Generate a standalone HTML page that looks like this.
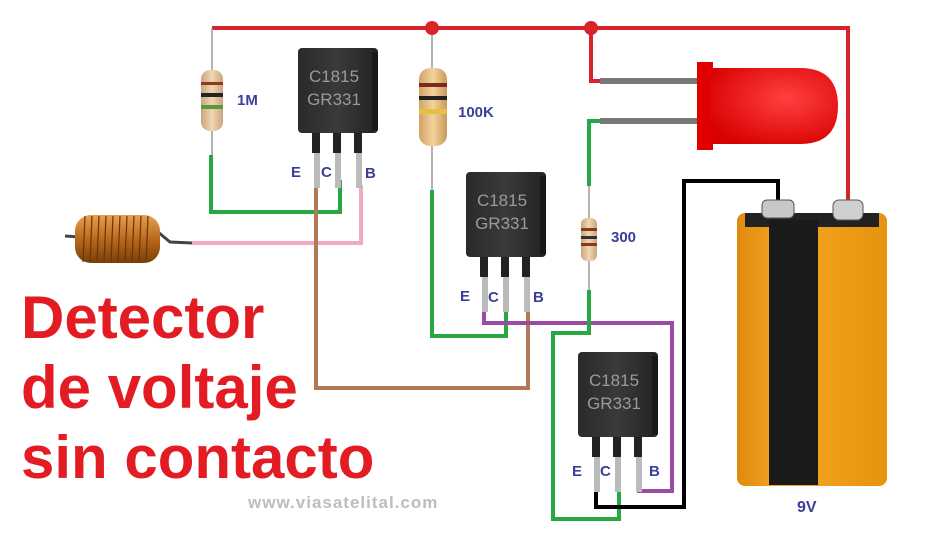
<!DOCTYPE html>
<html><head><meta charset="utf-8"><style>
html,body{margin:0;padding:0;background:#fff}
svg{display:block}
</style></head><body>
<svg width="930" height="540" viewBox="0 0 930 540" xmlns="http://www.w3.org/2000/svg">
<defs>
<linearGradient id="res" x1="0" x2="1"><stop offset="0" stop-color="#c9a680"/><stop offset=".5" stop-color="#f0d6b2"/><stop offset="1" stop-color="#c9a680"/></linearGradient>
<linearGradient id="res2" x1="0" x2="1"><stop offset="0" stop-color="#d1a265"/><stop offset=".5" stop-color="#f3d39b"/><stop offset="1" stop-color="#c99a5a"/></linearGradient>
<linearGradient id="tr" x1="0" x2="1"><stop offset="0" stop-color="#2a2a2a"/><stop offset=".5" stop-color="#3a3a3a"/><stop offset="1" stop-color="#222"/></linearGradient>
<linearGradient id="bat" x1="0" x2="1"><stop offset="0" stop-color="#e08a10"/><stop offset=".3" stop-color="#f5a623"/><stop offset="1" stop-color="#e6940f"/></linearGradient>
<radialGradient id="led" cx=".6" cy=".4" r=".7"><stop offset="0" stop-color="#ff4040"/><stop offset="1" stop-color="#d80000"/></radialGradient>
<linearGradient id="coil" x1="0" y1="0" x2="0" y2="1"><stop offset="0" stop-color="#e8a050"/><stop offset=".5" stop-color="#b86a1c"/><stop offset="1" stop-color="#7a3e0a"/></linearGradient>
<g id="trans">
<rect x="0" y="0" width="80" height="85" rx="4" fill="url(#tr)"/>
<rect x="74" y="4" width="6" height="78" fill="#181818"/>
<text x="36" y="34" font-family="Liberation Sans, sans-serif" font-size="17" fill="#9a9a9a" text-anchor="middle">C1815</text>
<text x="36" y="57" font-family="Liberation Sans, sans-serif" font-size="17" fill="#9a9a9a" text-anchor="middle">GR331</text>
<rect x="16" y="85" width="6" height="55" fill="#bbb"/>
<rect x="37" y="85" width="6" height="55" fill="#bbb"/>
<rect x="58" y="85" width="6" height="55" fill="#bbb"/>
<rect x="14" y="85" width="8" height="20" fill="#222"/>
<rect x="35" y="85" width="8" height="20" fill="#222"/>
<rect x="56" y="85" width="8" height="20" fill="#222"/>
</g>
</defs>

<g fill="none" stroke-width="4">
<polyline points="212,28 848,28 848,200" stroke="#d8232a"/>
<polyline points="591,28 591,81 610,81" stroke="#d8232a"/>
<polyline points="211,155 211,212 340,212 340,180" stroke="#27a844"/>
<polyline points="192,243 361,243 361,185" stroke="#f4a8c4"/>
<polyline points="316,188 316,388 528,388 528,312" stroke="#b07a58"/>
<polyline points="432,190 432,336 506,336 506,311" stroke="#27a844"/>
<polyline points="484,312 484,323 672,323 672,491 637,491" stroke="#9b4aa6"/>
<polyline points="610,121 589,121 589,186" stroke="#27a844"/>
<polyline points="589,290 589,333 553,333 553,519 619,519 619,490" stroke="#27a844"/>
<polyline points="596,488 596,507 684,507 684,181 778,181 778,200" stroke="#000"/>
</g>
<g stroke="#999" stroke-width="1.5">
<line x1="212" y1="28" x2="212" y2="155"/>
<line x1="432" y1="28" x2="432" y2="190"/>
<line x1="589" y1="186" x2="589" y2="290"/>
</g>
<circle cx="432" cy="28" r="7" fill="#d8232a"/>
<circle cx="591" cy="28" r="7" fill="#d8232a"/>

<rect x="201" y="70" width="22" height="61" rx="9" fill="url(#res)"/>
<rect x="201" y="82" width="22" height="3" fill="#8b3a1a"/>
<rect x="201" y="93" width="22" height="4" fill="#222"/>
<rect x="201" y="105" width="22" height="4" fill="#5a9a3a"/>
<rect x="419" y="68" width="28" height="78" rx="11" fill="url(#res2)"/>
<rect x="419" y="83" width="28" height="4" fill="#7a2a1a"/>
<rect x="419" y="96" width="28" height="4" fill="#222"/>
<rect x="419" y="109" width="28" height="5" fill="#e8c040"/>
<rect x="581" y="218" width="16" height="43" rx="6" fill="url(#res)"/>
<rect x="581" y="228" width="16" height="3" fill="#8b3a1a"/>
<rect x="581" y="236" width="16" height="3" fill="#333"/>
<rect x="581" y="243" width="16" height="3" fill="#8b3a1a"/>

<use href="#trans" x="298" y="48"/>
<use href="#trans" x="466" y="172"/>
<use href="#trans" x="578" y="352"/>

<rect x="600" y="78" width="100" height="6" fill="#777"/>
<rect x="600" y="118" width="100" height="6" fill="#777"/>
<rect x="697" y="62" width="16" height="88" fill="#e00000"/>
<path d="M710,68 L800,68 Q838,68 838,106 Q838,144 800,144 L710,144 Z" fill="url(#led)"/>

<rect x="737" y="213" width="150" height="273" rx="8" fill="url(#bat)"/>
<rect x="745" y="213" width="134" height="14" fill="#222"/>
<rect x="769" y="220" width="49" height="265" fill="#1a1a1a"/>
<rect x="762" y="200" width="32" height="18" rx="5" fill="#c8c8c8" stroke="#555"/>
<rect x="833" y="200" width="30" height="20" rx="6" fill="#d0d0d0" stroke="#555"/>

<line x1="65" y1="236" x2="80" y2="237" stroke="#444" stroke-width="3"/>
<path d="M158,232 L170,242 L192,243" fill="none" stroke="#444" stroke-width="3"/>
<rect x="75" y="215" width="85" height="48" rx="16" fill="url(#coil)"/>
<g stroke="#6a3408" stroke-width="1.2">
<line x1="85" y1="216" x2="83" y2="262"/><line x1="92" y1="216" x2="90" y2="262"/><line x1="99" y1="216" x2="97" y2="262"/><line x1="106" y1="216" x2="104" y2="262"/><line x1="113" y1="216" x2="111" y2="262"/><line x1="120" y1="216" x2="118" y2="262"/><line x1="127" y1="216" x2="125" y2="262"/><line x1="134" y1="216" x2="132" y2="262"/><line x1="141" y1="216" x2="139" y2="262"/><line x1="148" y1="216" x2="146" y2="262"/>
</g>

<g font-family="Liberation Sans, sans-serif" font-weight="bold" fill="#3b3f9c" font-size="15">
<text x="237" y="105">1M</text>
<text x="458" y="117">100K</text>
<text x="611" y="242">300</text>
<text x="291" y="177">E</text><text x="321" y="177">C</text><text x="365" y="178">B</text>
<text x="460" y="301">E</text><text x="488" y="302">C</text><text x="533" y="302">B</text>
<text x="572" y="476">E</text><text x="600" y="476">C</text><text x="649" y="476">B</text>
<text x="797" y="512" font-size="16">9V</text>
</g>
<g font-family="Liberation Sans, sans-serif" font-weight="bold" fill="#e31b23" font-size="60">
<text x="21" y="338">Detector</text>
<text x="21" y="408">de voltaje</text>
<text x="21" y="478">sin contacto</text>
</g>
<text x="248" y="508" font-family="Liberation Sans, sans-serif" font-weight="bold" font-size="17" letter-spacing="1" fill="#bdbdbd">www.viasatelital.com</text>
</svg>
</body></html>
